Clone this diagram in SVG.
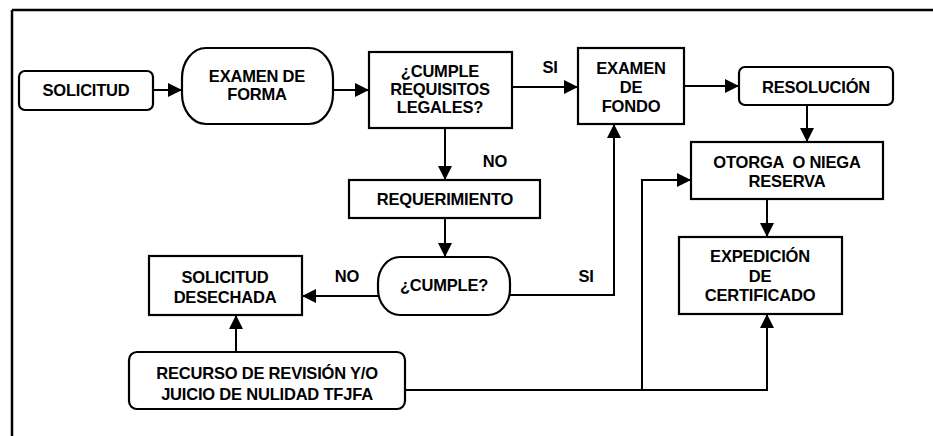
<svg xmlns="http://www.w3.org/2000/svg" width="933" height="436" viewBox="0 0 933 436">
<defs>
<marker id="ah" viewBox="0 0 14 14" refX="14" refY="7" markerWidth="14" markerHeight="14" markerUnits="userSpaceOnUse" orient="auto">
<path d="M0,0 L14,7 L0,14 Z" fill="#000"/>
</marker>
<style>
.box{fill:#fff;stroke:#000;stroke-width:2.2}
.t{font-family:"Liberation Sans",Arial,sans-serif;font-weight:bold;font-size:16.5px;fill:#000;text-anchor:middle;letter-spacing:-0.2px}
.c{fill:none;stroke:#000;stroke-width:2}
.a{marker-end:url(#ah)}
</style>
</defs>
<rect width="933" height="436" fill="#fff"/>
<g id="frame">
<path d="M12,10 H933 M12,10 V436" fill="none" stroke="#000" stroke-width="2.5"/>
</g>
<g id="connectors">
<path class="c a" d="M153,90 H182"/>
<path class="c a" d="M333,90 H369"/>
<path class="c a" d="M512,87 H578"/>
<path class="c a" d="M684,86 H739"/>
<path class="c a" d="M807,105 V142"/>
<path class="c a" d="M767,199 V237"/>
<path class="c a" d="M445,128 V180"/>
<path class="c a" d="M445,218 V257"/>
<path class="c a" d="M378,296 H302"/>
<path class="c a" d="M510,295 H614 V124"/>
<path class="c a" d="M236,352 V315"/>
<path class="c a" d="M405,390 H767 V314"/>
<path class="c a" d="M642,390 V180 H691"/>
<text class="t" x="550" y="73">SI</text>
<text class="t" x="495" y="167">NO</text>
<text class="t" x="347" y="282">NO</text>
<text class="t" x="586" y="282">SI</text>
</g>
<g id="solicitud">
<rect class="box" x="19" y="71" width="134" height="39" rx="6"/>
<text class="t" x="86" y="96">SOLICITUD</text>
</g>
<g id="examen-forma">
<rect class="box" x="182" y="48" width="151" height="76" rx="24" ry="30"/>
<text class="t" x="257" y="82">EXAMEN DE</text>
<text class="t" x="257" y="100">FORMA</text>
</g>
<g id="cumple-requisitos">
<rect class="box" x="369" y="52" width="143" height="76"/>
<text class="t" x="440" y="77">¿CUMPLE</text>
<text class="t" x="440" y="95">REQUISITOS</text>
<text class="t" x="440" y="113">LEGALES?</text>
</g>
<g id="examen-fondo">
<rect class="box" x="578" y="48" width="106" height="76"/>
<text class="t" x="631" y="74">EXAMEN</text>
<text class="t" x="631" y="93">DE</text>
<text class="t" x="631" y="112">FONDO</text>
</g>
<g id="resolucion">
<rect class="box" x="739" y="67" width="154" height="38" rx="6"/>
<text class="t" x="816" y="93">RESOLUCIÓN</text>
</g>
<g id="otorga">
<rect class="box" x="691" y="142" width="192" height="57"/>
<text class="t" x="787" y="168" xml:space="preserve">OTORGA  O NIEGA</text>
<text class="t" x="787" y="187">RESERVA</text>
</g>
<g id="requerimiento">
<rect class="box" x="349" y="180" width="191" height="38"/>
<text class="t" x="445" y="205">REQUERIMIENTO</text>
</g>
<g id="cumple">
<rect class="box" x="378" y="257" width="132" height="58" rx="22" ry="26"/>
<text class="t" x="444" y="291">¿CUMPLE?</text>
</g>
<g id="expedicion">
<rect class="box" x="679" y="237" width="163" height="77"/>
<text class="t" x="760" y="262">EXPEDICIÓN</text>
<text class="t" x="760" y="282">DE</text>
<text class="t" x="760" y="301">CERTIFICADO</text>
</g>
<g id="solicitud-desechada">
<rect class="box" x="149" y="256" width="153" height="59"/>
<text class="t" x="225" y="283">SOLICITUD</text>
<text class="t" x="225" y="303">DESECHADA</text>
</g>
<g id="recurso">
<rect class="box" x="129" y="352" width="276" height="57" rx="8"/>
<text class="t" x="267" y="379">RECURSO DE REVISIÓN Y/O</text>
<text class="t" x="267" y="400">JUICIO DE NULIDAD TFJFA</text>
</g>
</svg>
